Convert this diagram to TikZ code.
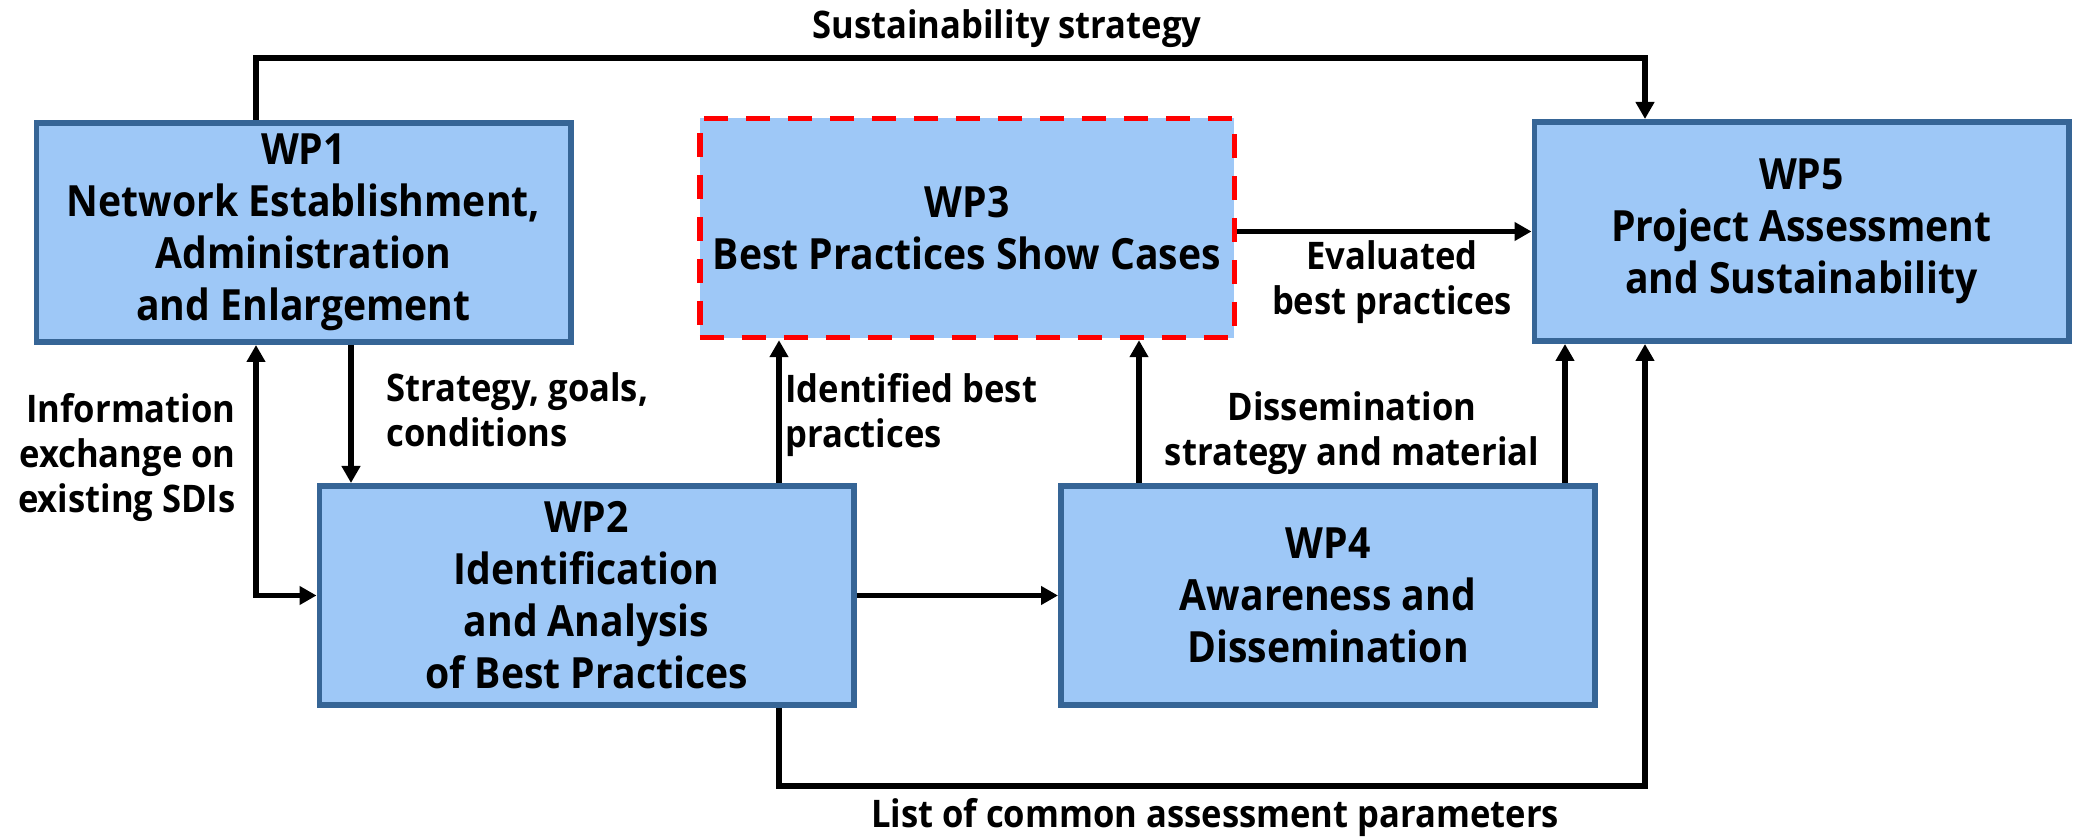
\documentclass[tikz,border=0pt]{standalone}
\usepackage{fontspec}
\setmainfont{Open Sans}[FakeStretch=0.91]
\usetikzlibrary{arrows.meta,calc}
\definecolor{wpfill}{RGB}{158,200,247}
\definecolor{wpborder}{RGB}{54,101,150}
\begin{document}
\begin{tikzpicture}[x=0.5pt,y=-0.5pt,
  wpbox/.style={draw=wpborder, fill=wpfill, line width=2.9pt, minimum width=267.1pt, minimum height=109.6pt, inner sep=0pt, align=center, font=\fontsize{21.5}{26}\selectfont\bfseries},
  redbox/.style={draw=red, dash pattern=on 12pt off 9pt, line width=2.6pt},
  lbl/.style={font=\fontsize{19}{22.5}\selectfont\bfseries, inner sep=0pt},
  arr/.style={line width=2.6pt, -{Triangle[length=8.5pt,width=9pt]}},
  arrboth/.style={line width=2.6pt, {Triangle[length=8.5pt,width=9pt]}-{Triangle[length=8.5pt,width=9pt]}}]
\useasboundingbox (0,0) rectangle (2078,838);
\node[wpbox] (wp1) at (303.5,232.5) {WP1\\Network Establishment,\\Administration\\and Enlargement};
\node[wpbox, redbox] (wp3) at (967,228) {WP3\\Best Practices Show Cases};
\node[wpbox] (wp5) at (1801.5,231.5) {WP5\\Project Assessment\\and Sustainability};
\node[wpbox] (wp2) at (586.5,595.5) {WP2\\Identification\\and Analysis\\of Best Practices};
\node[wpbox] (wp4) at (1328,595.5) {WP4\\Awareness and\\Dissemination};
\coordinate (xa) at (256,0);
\coordinate (xb) at (351,0);
\coordinate (xc) at (779,0);
\coordinate (xd) at (1139,0);
\coordinate (xe) at (1565,0);
\coordinate (xf) at (1645,0);
\coordinate (yt) at (0,58);
\coordinate (yb) at (0,786);
\draw[arr] (wp1.north -| xa) -- (xa |- yt) -| (wp5.north -| xf);
\draw[arr] (wp3.east |- wp5.west) -- (wp5.west);
\draw[arr] (wp1.south -| xb) -- (wp2.north -| xb);
\draw[arrboth] (wp1.south -| xa) |- (wp2.west);
\draw[arr] (wp2.north -| xc) -- (wp3.south -| xc);
\draw[arr] (wp2.east) -- (wp4.west);
\draw[arr] (wp4.north -| xd) -- (wp3.south -| xd);
\draw[arr] (wp4.north -| xe) -- (wp5.south -| xe);
\draw[arr] (wp2.south -| xc) -- (xc |- yb) -| (wp5.south -| xf);
\node[lbl] (l1) at (1007,29) {Sustainability strategy};
\node[lbl, align=center] (l2) at (1392,282) {Evaluated\\best practices};
\node[lbl, align=left, anchor=west] (l3) at (386,410) {Strategy, goals,\\conditions};
\node[lbl, align=right, anchor=east] (l4) at (236,458) {Information\\exchange on\\existing SDIs};
\node[lbl, align=left, anchor=west] (l5) at (785,415) {Identified best\\practices};
\node[lbl, align=center] (l6) at (1352,433) {Dissemination\\strategy and material};
\node[lbl] (l7) at (1215,818) {List of common assessment parameters};
\end{tikzpicture}
\end{document}
